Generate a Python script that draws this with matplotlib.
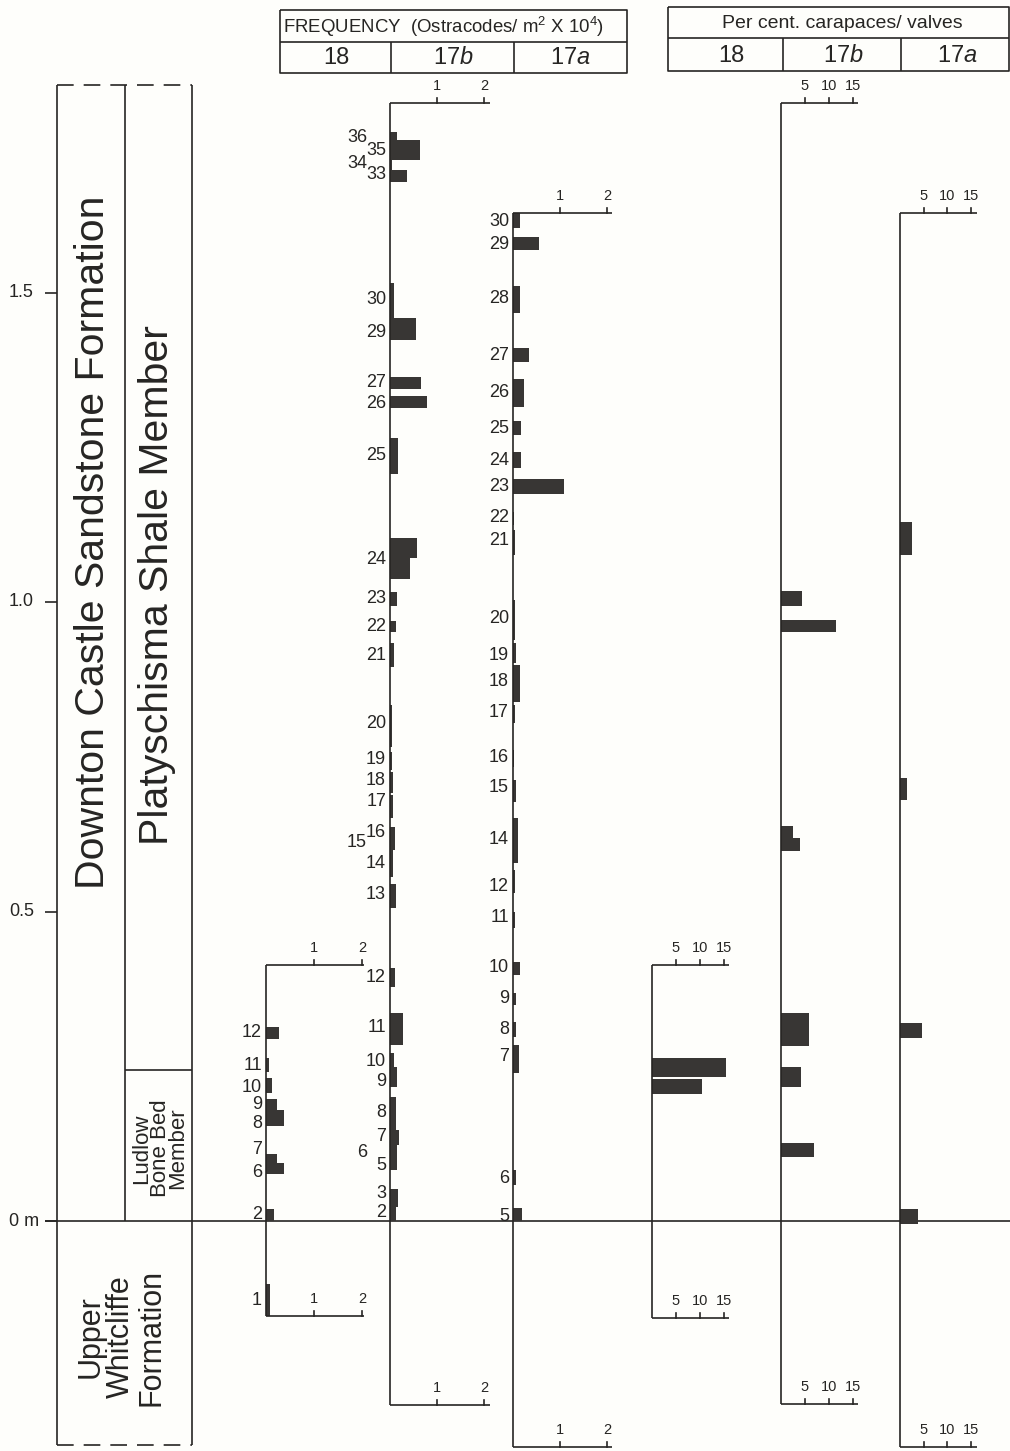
import matplotlib
matplotlib.use('Agg')
import matplotlib.pyplot as plt
from matplotlib import font_manager

names = set(f.name for f in font_manager.fontManager.ttflist)
NARROW = 'Liberation Sans Narrow' if 'Liberation Sans Narrow' in names else 'Liberation Sans'
plt.rcParams['font.family'] = ['Liberation Sans', 'DejaVu Sans']
plt.rcParams['mathtext.fontset'] = 'custom'
plt.rcParams['mathtext.rm'] = NARROW
plt.rcParams['mathtext.it'] = NARROW + ':italic'

# ---- data (heights in m above base of Downton Castle Sst.) ----
# frequency 17b  (ostracodes / m2 x 10^4)
f17b_bot = [1.746, 1.714, 1.698, 1.678, 1.459, 1.423, 1.344, 1.313, 1.207, 1.071, 1.037,
            0.994, 0.952, 0.895, 0.766, 0.729, 0.691, 0.651, 0.599, 0.556, 0.506,
            0.378, 0.284, 0.249, 0.216, 0.147, 0.123, 0.082, 0.023, 0.0]
f17b_top = [1.759, 1.746, 1.714, 1.698, 1.515, 1.459, 1.363, 1.333, 1.265, 1.103, 1.071,
            1.016, 0.969, 0.934, 0.834, 0.758, 0.725, 0.688, 0.637, 0.599, 0.544,
            0.409, 0.336, 0.271, 0.249, 0.200, 0.147, 0.123, 0.052, 0.023]
f17b_val = [0.15, 0.64, 0.05, 0.36, 0.08, 0.55, 0.65, 0.78, 0.17, 0.58, 0.42,
            0.15, 0.13, 0.08, 0.05, 0.05, 0.07, 0.07, 0.10, 0.07, 0.12,
            0.10, 0.27, 0.08, 0.15, 0.12, 0.20, 0.15, 0.17, 0.13]
f17b_lab = ['36', '35', '34', '33', '30', '29', '27', '26', '25', '24', '23', '22', '21',
            '20', '19', '18', '17', '16', '15', '14', '13', '12', '11', '10', '9', '8',
            '7', '6', '5', '3', '2']
f17b_lab_y = [1.750, 1.730, 1.709, 1.690, 1.488, 1.435, 1.355, 1.321, 1.237, 1.068, 1.006,
              0.960, 0.914, 0.803, 0.745, 0.711, 0.677, 0.627, 0.611, 0.578, 0.527,
              0.394, 0.313, 0.258, 0.226, 0.176, 0.136, 0.111, 0.089, 0.044, 0.013]
f17b_shift = ['36', '34', '15', '6']

# frequency 18
f18_bot = [0.294, 0.241, 0.207, 0.179, 0.153, 0.094, 0.076, 0.0, -0.153]
f18_top = [0.313, 0.263, 0.231, 0.197, 0.179, 0.108, 0.094, 0.019, -0.102]
f18_val = [0.27, 0.07, 0.12, 0.23, 0.37, 0.22, 0.37, 0.17, 0.08]
f18_lab = ['12', '11', '10', '9', '8', '7', '6', '2', '1']
f18_lab_y = [0.304, 0.252, 0.216, 0.189, 0.158, 0.115, 0.079, 0.011, -0.128]

# frequency 17a
f17a_bot = [1.604, 1.569, 1.467, 1.388, 1.315, 1.270, 1.216, 1.174, 1.124, 1.076, 0.939,
            0.901, 0.838, 0.805, 0.733, 0.677, 0.578, 0.530, 0.473, 0.397, 0.349,
            0.297, 0.239, 0.058, 0.0]
f17a_top = [1.628, 1.590, 1.510, 1.410, 1.360, 1.292, 1.242, 1.199, 1.145, 1.116, 1.003,
            0.934, 0.898, 0.834, 0.761, 0.712, 0.651, 0.567, 0.499, 0.418, 0.368,
            0.321, 0.284, 0.082, 0.021]
f17a_val = [0.15, 0.55, 0.15, 0.34, 0.23, 0.17, 0.17, 1.08, 0.03, 0.05, 0.04,
            0.06, 0.15, 0.04, 0.03, 0.06, 0.10, 0.05, 0.05, 0.15, 0.06,
            0.06, 0.13, 0.07, 0.20]
f17a_lab = ['30', '29', '28', '27', '26', '25', '24', '23', '22', '21', '20', '19', '18',
            '17', '16', '15', '14', '12', '11', '10', '9', '8', '7', '6', '5']
f17a_lab_y = [1.614, 1.577, 1.491, 1.399, 1.338, 1.281, 1.229, 1.186, 1.137, 1.100, 0.974,
              0.914, 0.871, 0.821, 0.748, 0.700, 0.616, 0.540, 0.491, 0.409, 0.360,
              0.310, 0.265, 0.069, 0.008]

# per cent carapaces / valves
p18_bot = [0.233, 0.205]
p18_top = [0.263, 0.229]
p18_val = [15.4, 10.5]
p17b_bot = [0.994, 0.952, 0.616, 0.598, 0.283, 0.216, 0.103]
p17b_top = [1.018, 0.971, 0.638, 0.619, 0.336, 0.249, 0.126]
p17b_val = [4.4, 11.5, 2.5, 4.0, 5.8, 4.1, 6.9]
p17a_bot = [1.076, 0.680, 0.296, -0.005]
p17a_top = [1.129, 0.716, 0.320, 0.019]
p17a_val = [2.5, 1.5, 4.6, 3.8]

depth_ticks = [1.5, 1.0, 0.5, 0.0]
depth_labels = ['1.5', '1.0', '0.5', '0 m']
bone_bed_top = 0.244

# ---- layout ----
W, H = 1010, 1451
ZERO_PX = 1221
PX_PER_M = 619
Y_TOP = ZERO_PX / PX_PER_M
Y_BOT = -(H - ZERO_PX) / PX_PER_M
INK = '#262523'
BAR = '#383634'
LW = 1.2


def ym(px):
    return (ZERO_PX - px) / PX_PER_M


fig = plt.figure(figsize=(W / 100, H / 100), dpi=100)
fig.patch.set_facecolor('#fefefb')
ax = fig.add_axes([0, 0, 1, 1])
ax.set_xlim(0, W)
ax.set_ylim(Y_BOT, Y_TOP)
ax.axis('off')


def line(xs, ys, **kw):
    ax.plot(xs, ys, color=INK, lw=kw.pop('lw', LW), solid_capstyle='butt', **kw)


# header boxes
for (x0, x1, y0, y1, ymid, cols, title, centres, tsize) in [
        (280, 627, 10, 73, 42, (391, 514), 'FREQUENCY  (Ostracodes/ m$^2$ X 10$^4$)',
         (336, 453, 570), 13.4),
        (668, 1009, 7, 71, 38, (783, 901), 'Per cent. carapaces/ valves',
         (731, 843, 957), 14)]:
    line([x0, x1, x1, x0, x0], [ym(y0), ym(y0), ym(y1), ym(y1), ym(y0)])
    line([x0, x1], [ym(ymid), ym(ymid)])
    for c in cols:
        line([c, c], [ym(ymid), ym(y1)])
    left = x0 < 600
    ax.text(x0 + 3 if left else (x0 + x1) / 2 + 4, ym((y0 + ymid) / 2 + 1), title,
            ha='left' if left else 'center', va='center', fontsize=tsize,
            family=[NARROW, 'DejaVu Sans'], color=INK)
    for c, s in zip(centres, ['18', '17$\\it{b}$', '17$\\it{a}$']):
        ax.text(c, ym((ymid + y1) / 2 + 1), s, ha='center', va='center', fontsize=17,
                family=[NARROW, 'DejaVu Sans'], color=INK)

# lithology column
LX0, LXM, LX1 = 57, 125, 192
box_top, box_bot = ym(85), ym(1445)
line([LX0, LX0], [box_bot, box_top])
line([LX1, LX1], [box_bot, box_top])
line([LXM, LXM], [0, box_top])
line([LXM, LX1], [bone_bed_top, bone_bed_top])
line([LX0, LX1], [box_top, box_top], linestyle=(0, (10, 6)))
line([LX0, LX1], [box_bot, box_bot], linestyle=(0, (10, 6)))
line([45, W], [0, 0])
for t, s in zip(depth_ticks, depth_labels):
    line([45, LX0], [t, t])
    ax.text(39 if t == 0 else 34, t, s, ha='right', va='center', fontsize=13, color=INK)

ax.text(93, ym(542), 'Downton Castle Sandstone Formation',
        rotation=90, ha='center', va='center', fontsize=29.5, color=INK)
ax.text(157, ym(585), 'Platyschisma Shale Member',
        rotation=90, ha='center', va='center', fontsize=29.5, color=INK)
ax.text(160, bone_bed_top / 2 - 0.005, 'Ludlow\nBone Bed\nMember',
        rotation=90, ha='center', va='center', fontsize=16, linespacing=0.82, color=INK)
ax.text(121, ym(1337), 'Upper\nWhitcliffe\nFormation',
        rotation=90, ha='center', va='center', fontsize=22, linespacing=1.0, color=INK)


# data columns
def column(x_px, ppu, top, bot, end, ticks, bars, labels=None, shift=()):
    pad = 45
    a = fig.add_axes([(x_px - pad) / W, 0, 150 / W, 1])
    a.set_xlim(-pad / ppu, (150 - pad) / ppu)
    a.set_ylim(Y_BOT, Y_TOP)
    a.axis('off')
    a.patch.set_alpha(0)
    bb, tt, vv = bars
    a.barh(bb, vv, height=[t - b for b, t in zip(bb, tt)], left=0, align='edge',
           color=BAR, edgecolor='none')
    a.plot([0, 0], [bot, top], color=INK, lw=LW, solid_capstyle='butt')
    tk = 5 / PX_PER_M
    for y in (top, bot):
        a.plot([0, end], [y, y], color=INK, lw=LW, solid_capstyle='butt')
        for t in ticks:
            a.plot([t, t], [y, y + tk], color=INK, lw=LW)
            a.text(t, y + 10 / PX_PER_M, str(t), ha='center', va='bottom', fontsize=10.5,
                   family=[NARROW, 'DejaVu Sans'], color=INK)
    if labels:
        for s, y in zip(*labels):
            dx = (23 if s in shift else 4) / ppu
            a.text(-dx, y, s, ha='right', va='center', fontsize=13, color=INK)
    return a


column(266, 48, ym(965), ym(1316), 2.04, [1, 2], (f18_bot, f18_top, f18_val),
       (f18_lab, f18_lab_y))
column(390, 47, ym(103), ym(1405), 2.12, [1, 2], (f17b_bot, f17b_top, f17b_val),
       (f17b_lab, f17b_lab_y), f17b_shift)
column(513, 47, ym(213), ym(1447), 2.1, [1, 2], (f17a_bot, f17a_top, f17a_val),
       (f17a_lab, f17a_lab_y))
column(652, 4.8, ym(965), ym(1318), 16, [5, 10, 15], (p18_bot, p18_top, p18_val))
column(781, 4.8, ym(103), ym(1404), 16, [5, 10, 15], (p17b_bot, p17b_top, p17b_val))
column(900, 4.7, ym(213), ym(1447), 16.4, [5, 10, 15], (p17a_bot, p17a_top, p17a_val))

fig.savefig('out.png', dpi=100, facecolor=fig.get_facecolor())
